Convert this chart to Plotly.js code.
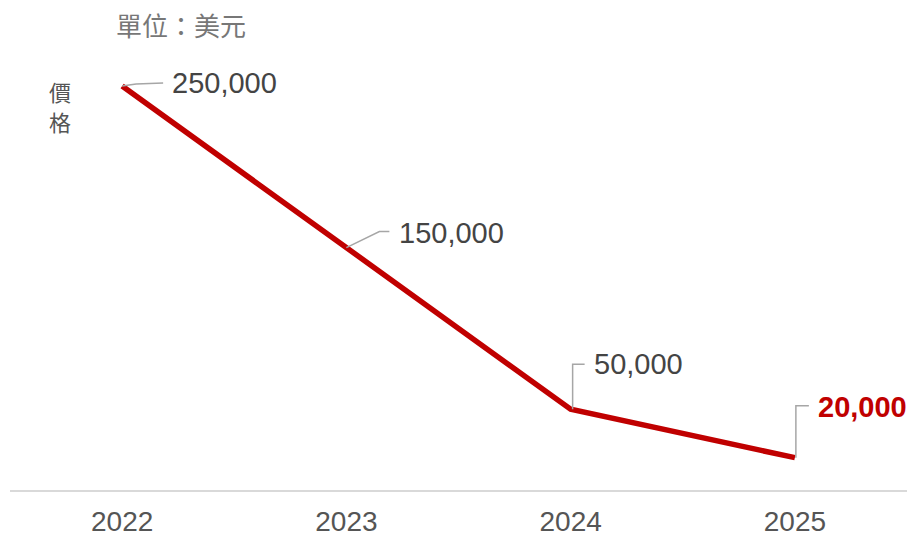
<!DOCTYPE html>
<html>
<head>
<meta charset="utf-8">
<script src="https://cdn.plot.ly/plotly-3.0.1.min.js"></script>
<style>html,body{margin:0;padding:0;background:#fff;}#chart{width:911px;height:536px;}</style>
</head>
<body>
<div id="chart"></div>
<script>
var years = [2022, 2023, 2024, 2025];
var prices = [250000, 150000, 50000, 20000];
var tickLabels = ["2022", "2023", "2024", "2025"];
var unitLabel = "單位：美元";
var yLabelChars = ["價", "格"];

// label offsets in pixels (style only)
var labelShift = [[48, 3], [51, 15], [21, 45], [21, 51]];
var leaderPaths = [
  "M0,0 L14,2 L41,3",
  "M0,0 L33,16 L43,16",
  "M2,0 L2,45 L14,45",
  "M1,0 L1,52 L14,52"
];

var red = "#c00000";
var numFont = "Liberation Sans, Arial, sans-serif";
var cjkFont = "Noto Sans CJK TC, Noto Sans CJK SC, sans-serif";

var trace = {
  x: years, y: prices, type: "scatter", mode: "lines",
  line: {color: red, width: 5.5},
  hoverinfo: "skip"
};

var annotations = [];
var shapes = [];
for (var i = 0; i < years.length; i++) {
  var last = i === years.length - 1;
  annotations.push({
    x: years[i], y: prices[i], xref: "x", yref: "y",
    text: last ? "<b>" + prices[i].toLocaleString("en-US") + "</b>" : prices[i].toLocaleString("en-US"),
    showarrow: false, xanchor: "left", yanchor: "middle",
    xshift: labelShift[i][0], yshift: labelShift[i][1],
    font: {family: numFont, size: 29, color: last ? red : "#444"}
  });
  shapes.push({
    type: "path", xref: "x", yref: "y",
    xsizemode: "pixel", ysizemode: "pixel",
    xanchor: years[i], yanchor: prices[i],
    path: leaderPaths[i],
    line: {color: "#a6a6a6", width: 1.5}
  });
}
annotations.push({
  xref: "paper", yref: "paper", x: 0.1160, y: 1.059, xanchor: "left", yanchor: "middle",
  text: unitLabel, showarrow: false,
  font: {family: cjkFont, size: 26, color: "#777"}
});
for (var k = 0; k < yLabelChars.length; k++) {
  annotations.push({
    xref: "paper", yref: "paper", x: 0.0557, y: (490 - (91 + 30 * k)) / 440,
    xanchor: "center", yanchor: "middle",
    text: yLabelChars[k], showarrow: false,
    font: {family: cjkFont, size: 22, color: "#555"}
  });
}

var layout = {
  width: 911, height: 536,
  margin: {l: 10, r: 4, t: 50, b: 46},
  paper_bgcolor: "#fff", plot_bgcolor: "#fff",
  showlegend: false,
  xaxis: {
    range: [2021.5, 2025.5],
    tickvals: years, ticktext: tickLabels,
    showgrid: false, zeroline: false,
    showline: true, linecolor: "#d9d9d9", linewidth: 1.5,
    ticks: "", ticklabelstandoff: 6,
    tickfont: {family: numFont, size: 28, color: "#555"}
  },
  yaxis: {
    range: [0, 272300],
    showgrid: false, zeroline: false, showline: false,
    showticklabels: false, ticks: ""
  },
  annotations: annotations,
  shapes: shapes
};

Plotly.newPlot("chart", [trace], layout, {displayModeBar: false, staticPlot: true});
</script>
</body>
</html>
